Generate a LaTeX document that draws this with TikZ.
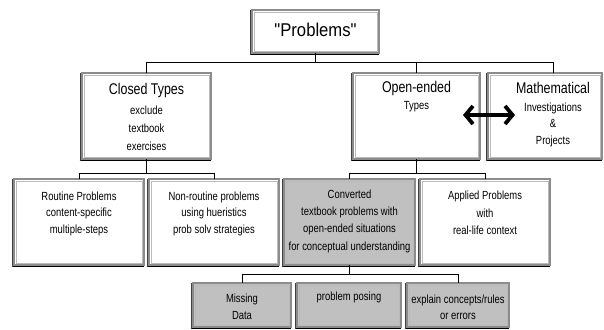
\documentclass[tikz,border=0pt]{standalone}
\usepackage{fontspec}
\setmainfont{Liberation Sans}
\newfontfamily\condfont{Liberation Sans}[FakeStretch=0.8]
\newfontfamily\probfont{Liberation Sans}[Ligatures=TeXOff, FakeStretch=0.9]
\usetikzlibrary{arrows.meta}
\definecolor{boxgray}{HTML}{C0C0C0}
\definecolor{edgegray}{HTML}{8C8C8C}
\definecolor{shadowgray}{HTML}{404040}
\begin{document}
\begin{tikzpicture}[x=1pt,y=-1pt,
  box/.style={draw=edgegray, line width=1.1pt,
    fill=white, minimum height=86pt, inner sep=0pt, outer sep=0pt},
  gbox/.style={box, fill=boxgray},
  wd/.style={minimum width=#1},
  ht/.style={minimum height=#1},
  conn/.style={black, line width=0.6pt},
  hd/.style={font=\condfont\fontsize{15.5}{17}\selectfont, inner sep=0pt, text=black},
  sm/.style={font=\condfont\fontsize{11.8}{#1}\selectfont, align=center, inner sep=0pt, text=black},
  arr/.style={line width=3.8pt, {Straight Barb[length=7.5pt,width=18pt]}-{Straight Barb[length=7.5pt,width=18pt]}}
]
\useasboundingbox (0,0) rectangle (604,329);
\fill[white] (0,0) rectangle (604,329);

% level coordinates
\coordinate (L1) at (0,62);
\coordinate (L2) at (0,173);
\coordinate (L3) at (0,274);
\coordinate (mx) at (553,0);

% boxes
\node[box, wd=127pt, ht=43pt] (prob) at (315.5,31.5) {};
\node[box, wd=129pt] (closed) at (146.5,116) {};
\node[box, wd=127pt] (open) at (416.5,116) {};
\node[box, wd=114pt] (math) at (545,116) {};
\node[box, wd=130pt] (routine) at (79,222) {};
\node[box, wd=130pt] (nonr) at (214,222) {};
\node[gbox, wd=131pt] (conv) at (349.5,222) {};
\node[box, wd=130pt] (appl) at (485,222) {};
\node[gbox, wd=98pt, ht=44pt] (miss) at (242,305) {};
\node[gbox, wd=104pt, ht=44pt] (pose) at (349,305) {};
\node[gbox, wd=102pt, ht=44pt] (expl) at (458,305) {};

% inner bevel lines and shadows
\foreach \n in {prob,closed,open,math,routine,nonr,conv,appl,miss,pose,expl} {
  \draw[edgegray!60, line width=0.5pt] ([xshift=1.8pt,yshift=-1.8pt]\n.north west) rectangle ([xshift=-1.8pt,yshift=1.8pt]\n.south east);
  \draw[black, line width=1.6pt] ([xshift=-2.5pt,yshift=-1.6pt]\n.south west) -- ([yshift=-1.6pt]\n.south east);
  \draw[shadowgray, line width=0.8pt] ([xshift=-2.0pt,yshift=-1.6pt]\n.south west) -- ([xshift=-2.0pt]\n.north west);
}

% connectors between levels
\draw[conn] (prob.south) -- (prob.south |- L1);
\draw[conn] (closed.north) -- (closed.north |- L1) -- (mx |- L1) -- (mx |- math.north);
\draw[conn] (open.north) -- (open.north |- L1);
\draw[conn] (closed.south) -- (closed.south |- L2);
\draw[conn] (routine.north) -- (routine.north |- L2) -- (nonr.north |- L2) -- (nonr.north);
\draw[conn] (open.south) -- (open.south |- L2);
\draw[conn] (conv.north) -- (conv.north |- L2) -- (appl.north |- L2) -- (appl.north);
\draw[conn] (conv.south) -- (conv.south |- L3);
\draw[conn] (miss.north) -- (miss.north |- L3) -- (expl.north |- L3) -- (expl.north);

% texts
\node[inner sep=0pt, font=\probfont\fontsize{18.5}{20}\selectfont, text=black] (tprob) at (315.5,30) {"Problems"};
\node[hd] (tclosed) at (146.5,90) {Closed Types};
\node[sm=18pt] (tclosedb) at (146.5,128) {exclude\\textbook\\exercises};
\node[hd] (topen) at (416.5,88) {Open-ended};
\node[sm=17pt] (topenb) at (416.5,107) {Types};
\node[hd] (tmath) at (553,88) {Mathematical};
\node[sm=16.5pt] (tmathb) at (553,124.5) {Investigations\\\&\\Projects};
\node[sm=16.5pt] (troutine) at (79,213.5) {Routine Problems\\content-specific\\multiple-steps};
\node[sm=16.5pt] (tnonr) at (214,213.5) {Non-routine problems\\using hueristics\\prob solv strategies};
\node[sm=17.3pt] (tconv) at (349.5,221) {Converted\\textbook problems with\\open-ended situations\\for conceptual understanding};
\node[sm=17.5pt] (tappl) at (485,213) {Applied Problems\\with\\real-life context};
\node[sm=17pt] (tmiss) at (242,306.5) {Missing\\Data};
\node[sm=17pt] (tpose) at (349,297) {problem posing};
\node[sm=16pt] (texpl) at (458,307) {explain concepts/rules\\or errors};

% double arrow
\coordinate (al) at (463,115);
\coordinate (ar) at (515,115);
\draw[arr] (al) -- (ar);
\end{tikzpicture}
\end{document}
